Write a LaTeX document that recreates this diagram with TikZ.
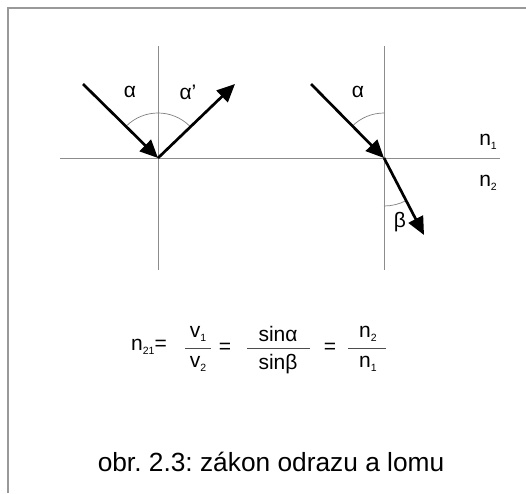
\documentclass[tikz,border=0pt]{standalone}
\usepackage{fontspec}
\setmainfont{Liberation Sans}
\usetikzlibrary{arrows.meta}
\frenchspacing
\newcommand\lbsub[1]{\raisebox{-0.35ex}{\fontsize{10.5}{10.5}\selectfont #1}}
\begin{document}
\begin{tikzpicture}[x=1pt,y=-1pt,
  thinline/.style={draw=black!45, line width=0.9pt},
  frameline/.style={draw=black!40, line width=1.3pt},
  ray/.style={draw=black, line width=2.7pt, -{Triangle[length=18pt,width=16pt]}},
  anglearc/.style={draw=black!50, line width=0.7pt},
  lbl/.style={inner sep=0pt, font=\fontsize{21}{21}\selectfont},
  captxt/.style={inner sep=0pt, font=\fontsize{26.3}{26.3}\selectfont}]
\useasboundingbox (0,0) rectangle (526,493);
\fill[white] (0,0) rectangle (526,493);
% frame
\coordinate (F1) at (8,493);
\coordinate (F2) at (8,8);
\coordinate (F3) at (526,8);
\draw[frameline] (F1) -- (F2) -- (F3);
% axes
\coordinate (O1) at (158,158);
\coordinate (O2) at (384,158);
\coordinate (H1) at (60,158);
\coordinate (H2) at (500,158);
\coordinate (V1t) at (158,46);
\coordinate (V1b) at (158,270);
\coordinate (V2t) at (384,46);
\coordinate (V2b) at (384,270);
\draw[thinline] (H1) -- (H2);
\draw[thinline] (V1t) -- (V1b);
\draw[thinline] (V2t) -- (V2b);
% arcs
\draw[anglearc] ([shift={(-135:45)}]O1) arc[start angle=-135, end angle=-45, radius=45];
\draw[anglearc] ([shift={(-135:45)}]O2) arc[start angle=-135, end angle=-90, radius=45];
\draw[anglearc] ([shift={(90:48)}]O2) arc[start angle=90, end angle=62.5, radius=48];
% rays
\coordinate (A1) at (83,84);
\coordinate (A2) at (235,84);
\coordinate (A3) at (311,84);
\coordinate (A4) at (424,235);
\draw[ray] (A1) -- (O1);
\draw[ray] (O1) -- (A2);
\draw[ray] (A3) -- (O2);
\draw[ray] (O2) -- (A4);
% labels
\node[lbl] (la) at (130,92) {α};
\node[lbl] (lap) at (188,92) {α’};
\node[lbl] (lb) at (358,92) {α};
\node[lbl] (lbeta) at (400,222) {β};
\node[lbl] (n1) at (488,142) {n\lbsub{1}};
\node[lbl] (n2) at (488,183) {n\lbsub{2}};
% equation
\node[lbl] (n21) at (149,347) {n\lbsub{21}=};
\node[lbl] (v1) at (198,334) {v\lbsub{1}};
\node[lbl] (v2) at (198,364) {v\lbsub{2}};
\coordinate (b1l) at (185,348); \coordinate (b1r) at (211,348);
\draw[thinline, draw=black!70] (b1l) -- (b1r);
\node[lbl] (eq1) at (225,348) {=};
\node[lbl] (sa) at (278,334) {sinα};
\node[lbl] (sb) at (278,364) {sinβ};
\coordinate (b2l) at (247,348); \coordinate (b2r) at (310,348);
\draw[thinline, draw=black!70] (b2l) -- (b2r);
\node[lbl] (eq2) at (330,348) {=};
\node[lbl] (m2) at (368,334) {n\lbsub{2}};
\node[lbl] (m1) at (368,364) {n\lbsub{1}};
\coordinate (b3l) at (348,348); \coordinate (b3r) at (386,348);
\draw[thinline, draw=black!70] (b3l) -- (b3r);
% caption
\node[captxt] (caption) at (271,462) {obr. 2.3: zákon odrazu a lomu};
\end{tikzpicture}
\end{document}
